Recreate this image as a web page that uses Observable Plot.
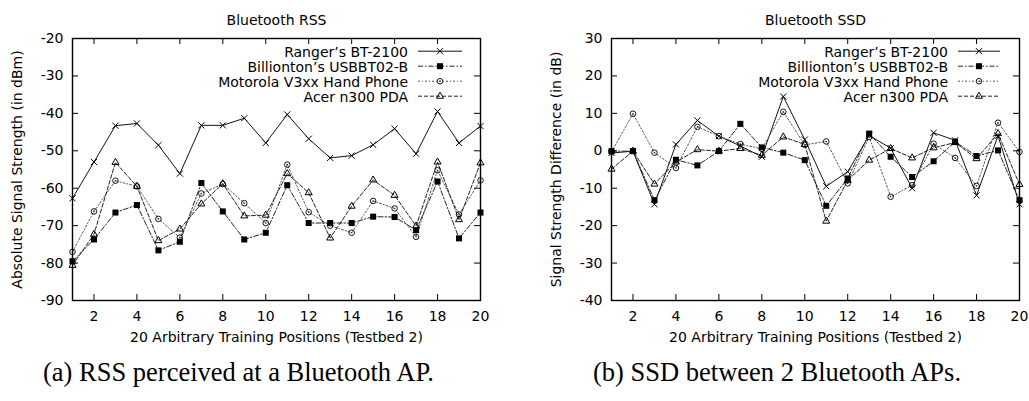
<!DOCTYPE html>
<html><head><meta charset="utf-8">
<script src="https://cdn.jsdelivr.net/npm/d3@7"></script>
<script src="https://cdn.jsdelivr.net/npm/@observablehq/plot@0.6"></script>
<style>
body{margin:0;background:#fff;}
#wrap{position:relative;width:1029px;height:401px;overflow:hidden;background:#fff;}
.chart{position:absolute;top:0;}
.cap{position:absolute;top:359px;font-family:"Liberation Serif";font-size:26.5px;line-height:26.5px;white-space:nowrap;color:#000;}
</style></head><body>
<div id="wrap">
<div id="a" class="chart" style="left:0px"></div>
<div id="b" class="chart" style="left:514px"></div>
<div class="cap" style="left:43px">(a) RSS perceived at a Bluetooth AP.</div>
<div class="cap" style="left:593px">(b) SSD between 2 Bluetooth APs.</div>
</div>
<script>
// ---- data ----
const positions = [1,2,3,4,5,6,7,8,9,10,11,12,13,14,15,16,17,18,19,20];
const xTicks = [2,4,6,8,10,12,14,16,18,20];
const rssTicks = [-90,-80,-70,-60,-50,-40,-30,-20];
const ssdTicks = [-40,-30,-20,-10,0,10,20,30];
const seriesNames = ["Ranger\u2019s BT-2100","Billionton\u2019s USBBT02-B","Motorola V3xx Hand Phone","Acer n300 PDA"];

const rssRanger     = [-62.7,-53,-43.3,-42.7,-48.5,-56.1,-43.2,-43.2,-41.3,-47.9,-40.3,-46.8,-51.9,-51.3,-48.4,-44.1,-50.8,-39.5,-47.9,-43.4];
const rssBillionton = [-79.5,-73.7,-66.5,-64.5,-76.6,-74.3,-58.6,-66.2,-73.7,-71.9,-59.2,-69.3,-69.3,-69.3,-67.6,-67.7,-71.2,-58.2,-73.4,-66.5];
const rssMotorola   = [-77,-66.2,-58,-59.5,-68.2,-73.2,-61.4,-58.9,-64,-69.3,-53.7,-66.4,-70,-71.9,-63.4,-65.4,-73,-55.2,-67,-57.9];
const rssAcer       = [-80.6,-72.3,-53.1,-59.5,-74,-70.9,-64.2,-58.8,-67.4,-67.2,-56.1,-61.2,-73.3,-64.8,-57.8,-61.9,-70.1,-53,-68.4,-53.2];

const ssdRanger     = [-0.6,-0.1,-14.3,1.7,8.1,3.9,1.3,-1.6,14.5,3.0,-9.5,-5.6,4.1,0.7,-10,4.8,2.8,-11.9,4.0,-14.3];
const ssdBillionton = [-0.1,-0.1,-13.2,-2.4,-3.9,-0.1,7.2,0.9,-0.5,-2.5,-14.7,-7.4,4.6,-1.6,-7.0,-2.8,2.4,-1.4,0.1,-13.2];
const ssdMotorola   = [-0.3,9.9,-0.5,-4.6,6.4,3.9,1.8,0.5,10.4,1.6,2.5,-8.7,3.7,-12.3,-9.2,1.9,-1.9,-9.4,7.5,-0.3];
const ssdAcer       = [-4.9,-0.1,-8.9,-3.0,0.3,-0.1,0.6,-1.2,3.7,1.7,-18.8,-7.9,-2.5,0.6,-1.9,0.8,2.2,-2.1,4.6,-9.0];

// ---- styles ----
const styles = [
  {dash: null,          stroke: "#111", symbol: "times",    r: 2.9, fill: "none", sw: 1},
  {dash: "5,2,1.5,2",   stroke: "#222", symbol: "square",   r: 3.4, fill: "#000", sw: 0},
  {dash: "2,2,1,2",     stroke: "#555", symbol: "circle",   r: 2.8, fill: "none", sw: 0.9, center: true},
  {dash: "4,2",         stroke: "#222", symbol: "triangle", r: 2.6, fill: "none", sw: 1}
];
const FONT = "DejaVu Sans";
const mT = 38, mB = 60, H = 360, frameH = H - mT - mB, frameW = 408;

function build(vals){
  return vals.map((arr,i)=>arr.map((v,j)=>({pos: positions[j], value: v, series: seriesNames[i]})));
}

function chart(el, {vals, yDomain, yTicks, title, ylabel, width, mL, mR, legend}) {
  const rows = build(vals);
  const marks = [];
  rows.forEach((data,i)=>{
    const s = styles[i];
    marks.push(Plot.line(data, {x:"pos", y:"value", stroke: s.stroke, strokeWidth: 1, strokeDasharray: s.dash || undefined}));
  });
  rows.forEach((data,i)=>{
    const s = styles[i];
    marks.push(Plot.dot(data, {x:"pos", y:"value", symbol: ()=>s.symbol, r: s.r,
      stroke: s.sw ? "#000" : "none", strokeWidth: s.sw || 1, fill: s.fill}));
    if (s.center) marks.push(Plot.dot(data, {x:"pos", y:"value", r: 0.8, fill: "#333", stroke: "none"}));
  });
  marks.push(Plot.tickX(xTicks, {x: d=>d, insetTop: frameH-6, stroke:"#000"}));
  marks.push(Plot.tickX(xTicks, {x: d=>d, insetBottom: frameH-6, stroke:"#000"}));
  marks.push(Plot.tickY(yTicks, {y: d=>d, insetRight: frameW-6, stroke:"#000"}));
  marks.push(Plot.tickY(yTicks, {y: d=>d, insetLeft: frameW-6, stroke:"#000"}));
  marks.push(Plot.frame({stroke:"#000", strokeWidth: 1.4}));
  marks.push(Plot.text([title], {frameAnchor:"top", dy:-23.5, fontSize:14, fontFamily: FONT, fill:"#000"}));
  marks.push(Plot.text(["20 Arbitrary Training Positions (Testbed 2)"], {frameAnchor:"bottom", dy:41, fontSize:14, fontFamily: FONT, fill:"#000"}));
  marks.push(Plot.text([ylabel], {frameAnchor:"left", textAnchor:"middle", dx:-55, rotate:-90, fontSize:14, fontFamily: FONT, fill:"#000"}));

  const svg = Plot.plot({
    width, height: H, marginLeft: mL, marginRight: mR, marginTop: mT, marginBottom: mB,
    style: {fontFamily: FONT, fontSize: "14px", background: "white", overflow: "visible", color: "#000"},
    x: {domain: [1,20], ticks: xTicks, tickSize: 0, tickPadding: 11, tickFormat: d=>String(d), label: null},
    y: {domain: yDomain, ticks: yTicks, tickSize: 0, tickPadding: 9, tickFormat: d=>String(d), label: null},
    marks
  });
  el.appendChild(svg);

  // legend
  const g = d3.select(svg).append("g").attr("font-family", FONT).attr("font-size", 14);
  const symMap = {times: d3.symbolTimes, square: d3.symbolSquare, circle: d3.symbolCircle, triangle: d3.symbolTriangle};
  seriesNames.forEach((name,i)=>{
    const s = styles[i];
    const y = 51.7 + 15*i;
    g.append("text").attr("x", legend.textEnd).attr("y", y).attr("dy","0.35em")
      .attr("text-anchor","end").attr("fill","#000").text(name);
    g.append("line").attr("x1", legend.x1).attr("x2", legend.x2).attr("y1", y-0.5).attr("y2", y-0.5)
      .attr("stroke", s.stroke).attr("stroke-width",1).attr("stroke-dasharray", s.dash);
    const mx = (legend.x1+legend.x2)/2;
    if (s.symbol === "circle") {
      g.append("circle").attr("cx",mx).attr("cy",y-0.5).attr("r",s.r).attr("fill","none").attr("stroke","#000").attr("stroke-width",s.sw);
    } else {
      g.append("path").attr("transform",`translate(${mx},${y-0.5})`)
        .attr("d", d3.symbol(symMap[s.symbol], s.r*s.r*Math.PI)())
        .attr("fill", s.fill).attr("stroke", s.sw ? "#000" : "none").attr("stroke-width", s.sw || 1);
    }
    if (s.center) g.append("circle").attr("cx",mx).attr("cy",y-0.5).attr("r",0.8).attr("fill","#333");
  });
}

chart(document.getElementById("a"), {
  vals: [rssRanger, rssBillionton, rssMotorola, rssAcer],
  yDomain: [-90,-20], yTicks: rssTicks, title: "Bluetooth RSS",
  ylabel: "Absolute Signal Strength (in dBm)", width: 514, mL: 72, mR: 34,
  legend: {textEnd: 408, x1: 418, x2: 462}
});
chart(document.getElementById("b"), {
  vals: [ssdRanger, ssdBillionton, ssdMotorola, ssdAcer],
  yDomain: [-40,30], yTicks: ssdTicks, title: "Bluetooth SSD",
  ylabel: "Signal Strength Difference (in dB)", width: 515, mL: 97, mR: 10,
  legend: {textEnd: 434, x1: 444, x2: 486}
});
</script>
</body></html>
